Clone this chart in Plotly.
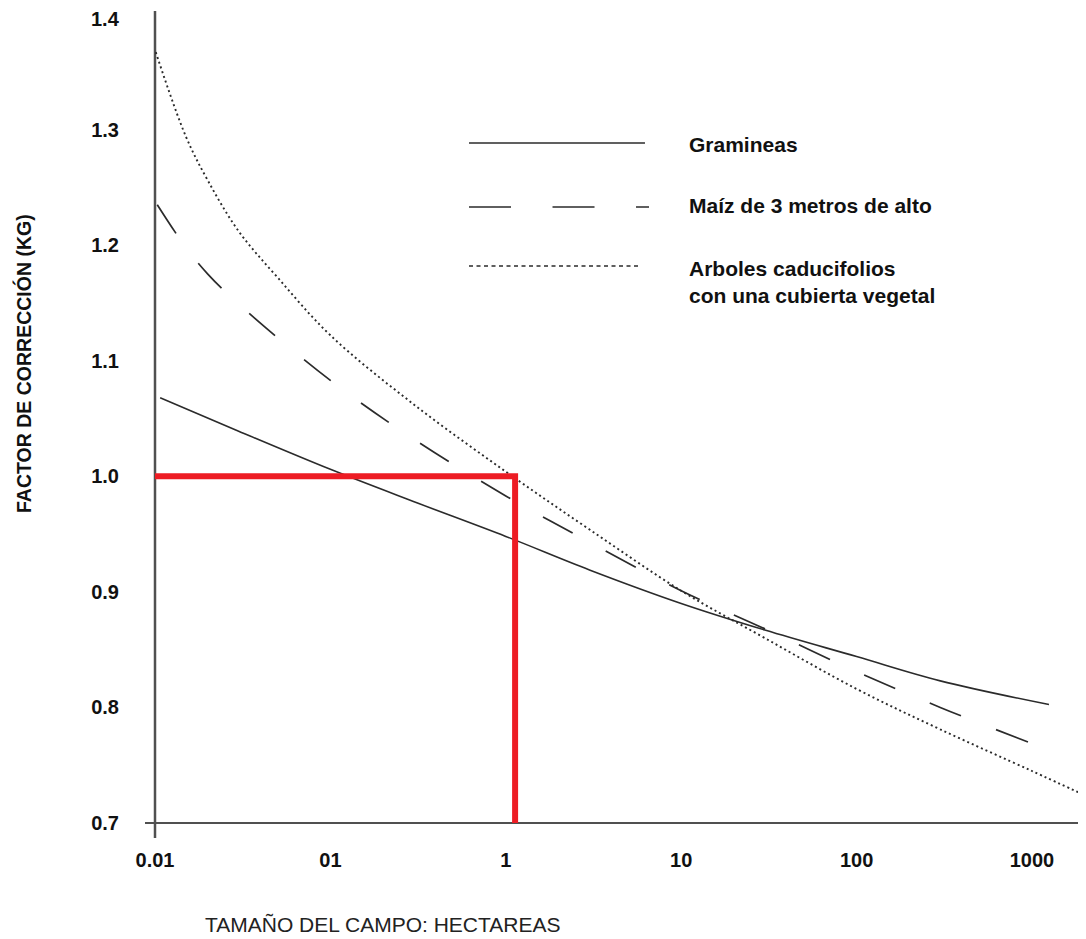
import plotly.graph_objects as go

# ---- data ----
x_tick_vals = [0.01, 0.1, 1, 10, 100, 1000]
x_tick_text = ["0.01", "01", "1", "10", "100", "1000"]
y_tick_vals = [0.7, 0.8, 0.9, 1.0, 1.1, 1.2, 1.3, 1.4]
y_tick_text = ["0.7", "0.8", "0.9", "1.0", "1.1", "1.2", "1.3", "1.4"]

gram_x = [0.0107, 0.03, 0.1, 0.3, 1, 3, 10, 30, 100, 300, 1250]
gram_y = [1.068, 1.039, 1.006, 0.978, 0.948, 0.919, 0.890, 0.867, 0.844, 0.823, 0.8025]

maiz_x = [0.0103, 0.015, 0.02, 0.03, 0.1, 0.3, 1, 3, 10, 30, 100, 300, 950]
maiz_y = [1.235, 1.198, 1.175, 1.149, 1.083, 1.032, 0.983, 0.943, 0.901, 0.868, 0.831, 0.800, 0.770]

arb_x = [0.0101, 0.015, 0.02, 0.03, 0.05, 0.1, 0.3, 1, 3, 10, 30, 100, 300, 1000, 2000]
arb_y = [1.367, 1.294, 1.256, 1.212, 1.172, 1.122, 1.062, 1.004, 0.954, 0.901, 0.860, 0.816, 0.781, 0.745, 0.724]

red_x = [0.01, 1.13, 1.13]
red_y = [1.0, 1.0, 0.7]

legend_names = ["Gramineas", "Maíz de 3 metros de alto", "Arboles caducifolios<br>con una cubierta vegetal"]

FONT = "Liberation Sans, Arial, sans-serif"
INK = "#2b2b2b"
TICKFONT = dict(family=FONT, size=20, color="#111", weight="bold")

fig = go.Figure()

# axis lines (crossing with small overhangs)
fig.add_trace(go.Scatter(x=[10 ** -2.057, 10 ** 3.291], y=[0.7, 0.7], mode="lines",
                         line=dict(color="#505050", width=2), showlegend=False))
fig.add_trace(go.Scatter(x=[0.01, 0.01], y=[0.687, 1.4026], mode="lines",
                         line=dict(color="#505050", width=2.5), showlegend=False))

# curves
fig.add_trace(go.Scatter(x=gram_x, y=gram_y, mode="lines", name=legend_names[0],
                         line=dict(color=INK, width=1.6, shape="spline", smoothing=1.0),
                         showlegend=False))
fig.add_trace(go.Scatter(x=maiz_x, y=maiz_y, mode="lines", name=legend_names[1],
                         line=dict(color=INK, width=1.7, dash="34px,37.6px", shape="spline", smoothing=1.0),
                         showlegend=False))
fig.add_trace(go.Scatter(x=arb_x, y=arb_y, mode="lines", name=legend_names[2],
                         line=dict(color=INK, width=1.9, dash="2px,3px", shape="spline", smoothing=1.0),
                         showlegend=False))

# red guide lines
fig.add_trace(go.Scatter(x=red_x, y=red_y, mode="lines",
                         line=dict(color="#ED1C24", width=6), showlegend=False))

# custom legend (paper coordinates)
leg_y = [0.8377, 0.7608, 0.6899]
leg_dash = ["solid", "42px,41.5px", "4px,3.5px"]
leg_x1 = [0.5338, 0.5381, 0.5275]
for yy, dsh, x1 in zip(leg_y, leg_dash, leg_x1):
    fig.add_shape(type="line", xref="paper", yref="paper", x0=0.3478, x1=x1, y0=yy, y1=yy,
                  line=dict(color=INK, width=1.6, dash=dsh))
leg_text_y = [0.8365, 0.7632, 0.6707]
for txt, yy in zip(legend_names, leg_text_y):
    fig.add_annotation(text=txt, xref="paper", yref="paper", x=0.5782, y=yy,
                       xanchor="left", yanchor="middle", align="left", showarrow=False,
                       font=dict(family=FONT, size=21, color="#111", weight="bold"))

# top y tick label drawn as annotation so it stays inside the page
fig.add_annotation(text=y_tick_text[-1], xref="paper", yref="paper", x=-0.0201, y=0.9862,
                   xanchor="right", yanchor="middle", showarrow=False, borderpad=0,
                   font=TICKFONT)

# axis titles
fig.add_annotation(text="TAMAÑO DEL CAMPO: HECTAREAS", xref="paper", yref="paper",
                   x=0.2569, y=-0.102, xanchor="center", yanchor="middle", showarrow=False,
                   font=dict(family=FONT, size=21, color="#222"))
fig.add_annotation(text="FACTOR DE CORRECCIÓN (KG)", xref="paper", yref="paper",
                   x=-0.1237, y=0.5733, xanchor="center", yanchor="middle", showarrow=False,
                   textangle=-90, font=dict(family=FONT, size=19.5, color="#111", weight="bold"))

fig.update_layout(
    width=1078, height=931,
    margin=dict(l=132, r=0, t=0, b=99, autoexpand=False),
    paper_bgcolor="white", plot_bgcolor="white",
    hovermode=False, showlegend=False,
    xaxis=dict(type="log", range=[-2.0855, 3.308], showgrid=False, zeroline=False, showline=False,
               automargin=False,
               tickvals=x_tick_vals, ticktext=x_tick_text, ticks="outside", ticklen=2,
               tickcolor="rgba(0,0,0,0)", ticklabeloverflow="allow", tickfont=TICKFONT),
    yaxis=dict(range=[0.6853, 1.4052], showgrid=False, zeroline=False, showline=False,
               automargin=False,
               tickvals=y_tick_vals[:-1], ticktext=y_tick_text[:-1], ticks="outside", ticklen=16,
               tickcolor="rgba(0,0,0,0)", ticklabeloverflow="allow", tickfont=TICKFONT),
)

fig.write_html("out.html")
